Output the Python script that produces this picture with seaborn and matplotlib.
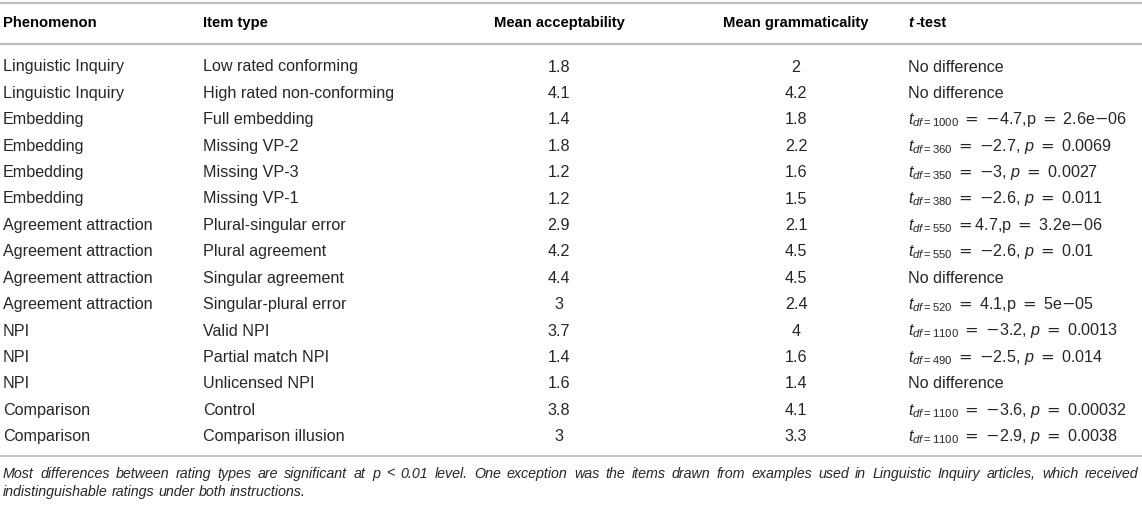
import matplotlib
matplotlib.use("Agg")
import matplotlib.pyplot as plt
import seaborn as sns

# Dati della tabella
phenomenon = ["Linguistic Inquiry", "Linguistic Inquiry", "Embedding", "Embedding",
              "Embedding", "Embedding", "Agreement attraction", "Agreement attraction",
              "Agreement attraction", "Agreement attraction", "NPI", "NPI", "NPI",
              "Comparison", "Comparison"]
item_type = ["Low rated conforming", "High rated non-conforming", "Full embedding",
             "Missing VP-2", "Missing VP-3", "Missing VP-1", "Plural-singular error",
             "Plural agreement", "Singular agreement", "Singular-plural error",
             "Valid NPI", "Partial match NPI", "Unlicensed NPI", "Control",
             "Comparison illusion"]
mean_acc = [1.8, 4.1, 1.4, 1.8, 1.2, 1.2, 2.9, 4.2, 4.4, 3, 3.7, 1.4, 1.6, 3.8, 3]
mean_gram = [2, 4.2, 1.8, 2.2, 1.6, 1.5, 2.1, 4.5, 4.5, 2.4, 4, 1.6, 1.4, 4.1, 3.3]
t_test = [
    "No difference",
    "No difference",
    r"$t_{df{=}1000}$ = −4.7,p = 2.6e−06",
    r"$t_{df{=}360}$ = −2.7, $p$ = 0.0069",
    r"$t_{df{=}350}$ = −3, $p$ = 0.0027",
    r"$t_{df{=}380}$ = −2.6, $p$ = 0.011",
    r"$t_{df{=}550}$ =4.7,p = 3.2e−06",
    r"$t_{df{=}550}$ = −2.6, $p$ = 0.01",
    "No difference",
    r"$t_{df{=}520}$ = 4.1,p = 5e−05",
    r"$t_{df{=}1100}$ = −3.2, $p$ = 0.0013",
    r"$t_{df{=}490}$ = −2.5, $p$ = 0.014",
    "No difference",
    r"$t_{df{=}1100}$ = −3.6, $p$ = 0.00032",
    r"$t_{df{=}1100}$ = −2.9, $p$ = 0.0038",
]
headers = ["Phenomenon", "Item type", "Mean acceptability", "Mean grammaticality", "t-test"]
footnote_lines = [
    "Most differences between rating types are significant at p < 0.01 level. "
    "One exception was the items drawn from examples used in Linguistic Inquiry "
    "articles, which received",
    "indistinguishable ratings under both instructions.",
]

sns.set_theme(style="white")
plt.rcParams["font.family"] = ["Liberation Sans", "DejaVu Sans"]
plt.rcParams["mathtext.fontset"] = "custom"
plt.rcParams["mathtext.rm"] = "Liberation Sans"
plt.rcParams["mathtext.it"] = "Liberation Sans:italic"
plt.rcParams["mathtext.bf"] = "Liberation Sans:bold"
plt.rcParams["mathtext.sf"] = "DejaVu Sans"

W, H = 1142, 505
fig = plt.figure(figsize=(W / 100, H / 100), dpi=100)
ax = fig.add_axes([0, 0, 1, 1])
ax.set_xlim(0, W)
ax.set_ylim(H, 0)
ax.axis("off")

fs = 11.6
hfs = 10.6
txt_col = "#262626"
line_col = "#bdbdbd"
col_x = [3, 203, 559, 796, 908]
col_ha = ["left", "left", "center", "center", "left"]
header_y = 23
row0, step = 67, 26.4


def wide_ops(s):
    # "=" e "−" più larghi, come nel font matematico dell'originale
    return s.replace("=", r"$\mathsf{=}$").replace("−", r"$\mathsf{-}$").replace("$$", "")


# Linee orizzontali
ax.plot([0, W], [3, 3], color=line_col, lw=1.6)
ax.plot([0, W], [44, 44], color=line_col, lw=1.6)
bottom = row0 + step * (len(phenomenon) - 1) + 19
ax.plot([0, W], [bottom, bottom], color=line_col, lw=1.3)

# Intestazione
for x, ha, h in zip(col_x, col_ha, headers):
    if h == "t-test":
        ax.text(x, header_y, "t", fontsize=hfs, fontweight="bold", style="italic",
                ha="left", va="center", color="black")
        ax.text(x + 7, header_y, "-test", fontsize=hfs, fontweight="bold",
                ha="left", va="center", color="black")
        continue
    ax.text(x, header_y, h, fontsize=hfs, fontweight="bold", ha=ha, va="center", color="black")

# Righe
for i in range(len(phenomenon)):
    y = row0 + i * step
    tt = t_test[i]
    if tt.startswith("$t_{"):
        sub_end = tt.index("}$") + 2
        tt = tt[:sub_end] + wide_ops(tt[sub_end:])
    vals = [phenomenon[i], item_type[i], f"{mean_acc[i]:g}", f"{mean_gram[i]:g}", tt]
    for x, ha, v in zip(col_x, col_ha, vals):
        ax.text(x, y, v, fontsize=fs, ha=ha, va="center", color=txt_col)

# Nota a piè di pagina (prima riga giustificata)
fig.canvas.draw()
renderer = fig.canvas.get_renderer()
fn_fs = 10.3
left, right = 3, W - 4


def width(s):
    t = ax.text(0, 0, s, fontsize=fn_fs, style="italic")
    w = t.get_window_extent(renderer).width
    t.remove()
    return w


sp_w = width("a b") - width("ab")
fn_y = [bottom + 18, bottom + 36]
for li, line in enumerate(footnote_lines):
    words = line.split()
    wds = [width(w) for w in words]
    if li == 0:
        gap = (right - left - sum(wds)) / (len(words) - 1)
    else:
        gap = sp_w
    x = left
    for w, wd in zip(words, wds):
        ax.text(x, fn_y[li], w, fontsize=fn_fs, style="italic", ha="left", va="center",
                color=txt_col)
        x += wd + gap

fig.savefig("out.png", dpi=100)
